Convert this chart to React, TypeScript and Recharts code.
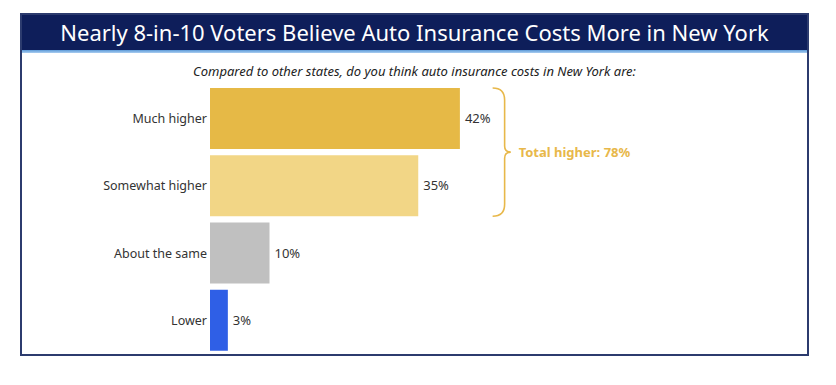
import React from "react";
import { BarChart, Bar, XAxis, YAxis, Cell, LabelList } from "recharts";

const categories = ["Much higher", "Somewhat higher", "About the same", "Lower"];
const shares = [42, 35, 10, 3];
const barColors = ["#e6b946", "#f2d686", "#c0c0c0", "#2f5fe6"];
const title = "Nearly 8-in-10 Voters Believe Auto Insurance Costs More in New York";
const question = "Compared to other states, do you think auto insurance costs in New York are:";
const totalLabel = "Total higher: 78%";

const data = categories.map((name, i) => ({ name, value: shares[i] }));

const FONT = "'Noto Sans', 'Open Sans', sans-serif";
const GOLD = "#e8b84a";

// draws half of the curly brace next to the first two bars
const BraceLabel = (props: any) => {
  const { x, y, width, height, index, value } = props;
  if (index > 1) return null;
  const pxPer = width / value;
  const bx = x + (Math.max(...shares) + 5.5) * pxPer;
  const r = 12;
  const gap = 3;
  if (index === 0) {
    const top = y;
    const tip = y + height + gap;
    return (
      <g>
        <path
          d={`M${bx},${top} Q${bx + r},${top} ${bx + r},${top + r} L${bx + r},${tip - 6} Q${bx + r},${tip} ${bx + r + 6},${tip}`}
          fill="none"
          stroke={GOLD}
          strokeWidth={1.6}
        />
        <text
          x={bx + r + 14}
          y={tip}
          dy="0.35em"
          fill={GOLD}
          fontSize={13}
          fontWeight={700}
          fontFamily={FONT}
        >
          {totalLabel}
        </text>
      </g>
    );
  }
  const tip = y - gap;
  const bottom = y + height;
  return (
    <path
      d={`M${bx + r + 6},${tip} Q${bx + r},${tip} ${bx + r},${tip + 6} L${bx + r},${bottom - r} Q${bx + r},${bottom} ${bx},${bottom}`}
      fill="none"
      stroke={GOLD}
      strokeWidth={1.6}
    />
  );
};

export default function App() {
  return (
    <div
      style={{
        position: "absolute",
        left: 0,
        top: 0,
        width: 836,
        height: 385,
        background: "#fff",
        fontFamily: FONT,
      }}
    >
      <div
        style={{
          position: "absolute",
          left: 20,
          top: 13,
          width: 789,
          height: 343,
          boxSizing: "border-box",
          border: "2px solid #2c3b6e",
        }}
      >
        <div
          style={{
            height: 35,
            background: "#0e1e5a",
            color: "#fff",
            fontSize: 22,
            lineHeight: "35px",
            textAlign: "center",
          }}
        >
          {title}
        </div>
        <div
          style={{
            height: 3,
            background: "linear-gradient(#5d9ad8, #a9cdf0)",
          }}
        />
        <div
          style={{
            marginTop: 9,
            textAlign: "center",
            fontStyle: "italic",
            fontSize: 13,
            color: "#222",
          }}
        >
          {question}
        </div>
      </div>
      <div style={{ position: "absolute", left: 0, top: 0 }}>
        <BarChart
          width={836}
          height={385}
          data={data}
          layout="vertical"
          margin={{ top: 85, right: 31, bottom: 31, left: 0 }}
          barSize={61}
        >
          <XAxis type="number" domain={[0, 100]} hide />
          <YAxis
            type="category"
            dataKey="name"
            width={210}
            axisLine={false}
            tickLine={false}
            tickSize={0}
            tickMargin={3}
            tick={{ fill: "#333", fontSize: 12.5, fontFamily: FONT }}
          />
          <Bar dataKey="value" isAnimationActive={false}>
            {data.map((d, i) => (
              <Cell key={d.name} fill={barColors[i]} />
            ))}
            <LabelList
              dataKey="value"
              position="right"
              offset={5}
              formatter={(v: any) => `${v}%`}
              style={{ fill: "#333", fontSize: 13, fontFamily: FONT }}
            />
            <LabelList dataKey="value" content={BraceLabel} />
          </Bar>
        </BarChart>
      </div>
    </div>
  );
}
